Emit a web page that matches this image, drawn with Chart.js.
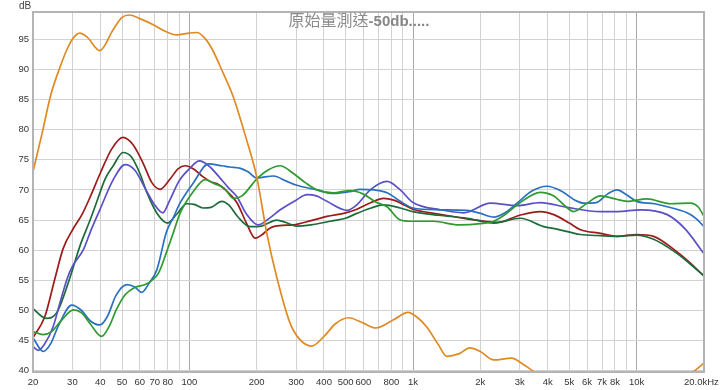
<!DOCTYPE html>
<html>
<head>
<meta charset="utf-8">
<script src="https://cdn.jsdelivr.net/npm/chart.js@4"></script>
<style>
  body { margin: 0; background: #fff; }
  canvas { display: block; }
</style>
</head>
<body>
<canvas id="fr" width="720" height="390"></canvas>
<script>
// Title + axis ticks
const titleCjk = '原始量測送';
const titleLatin = '-50db.....';
const yTicks = [40, 45, 50, 55, 60, 65, 70, 75, 80, 85, 90, 95];
const xGrid = [20, 30, 40, 50, 60, 70, 80, 90, 100, 200, 300, 400, 500, 600, 700, 800, 900,
  1000, 2000, 3000, 4000, 5000, 6000, 7000, 8000, 9000, 10000, 20000];
const xLabels = {20: '20', 30: '30', 40: '40', 50: '50', 60: '60', 70: '70', 80: '80', 100: '100',
  200: '200', 300: '300', 400: '400', 500: '500', 600: '600', 800: '800', 1000: '1k',
  2000: '2k', 3000: '3k', 4000: '4k', 5000: '5k', 6000: '6k', 7000: '7k', 8000: '8k',
  10000: '10k', 20000: '20.0kHz  '};

// Orange
const orangeFreq = [20, 22, 24, 26.5, 28.3, 30, 32.4, 35, 39.8, 45.7, 50, 54, 60, 69, 78, 87.6, 100, 108, 117, 127,
  140, 157, 178, 200, 222, 246, 282, 310, 352, 400, 450, 515, 600, 682, 822, 950, 1050, 1150, 1300, 1416,
  1600, 1798, 2000, 2295, 2757, 3100, 3462, 4000, 5000, 8000, 12000, 16000, 18000, 20000];
const orangeDb = [73.0, 79.5, 85.7, 90.5, 93.2, 95.0, 96.0, 95.3, 93.1, 96.6, 98.6, 99.0, 98.4, 97.4, 96.3, 95.7, 96.0, 96.1, 95.2, 93.2,
  89.8, 85.5, 79.0, 72.2, 62.8, 55.5, 47.9, 45.3, 44.1, 45.7, 47.8, 48.8, 47.9, 47.1, 48.5, 49.7, 48.8, 47.3, 44.3, 42.4,
  42.8, 43.8, 43.2, 41.8, 42.1, 41.1, 39.9, 38.5, 37.5, 37.0, 37.5, 38.6, 39.9, 41.3];

// Dark red
const redFreq = [20, 22.6, 25.1, 27.3, 30.3, 33, 36, 40, 45, 50.4, 56, 62, 68, 74, 82, 89, 96, 104, 114, 124,
  135, 145, 163, 180, 197, 212, 230, 260, 292, 350, 412, 500, 561, 650, 738, 820, 880, 1000, 1300, 1743,
  2100, 2380, 3000, 3710, 4260, 5000, 5600, 6900, 8200, 10000, 11900, 14700, 17000, 20000];
const redDb = [45.5, 49.0, 55.4, 60.3, 63.6, 65.8, 68.8, 72.8, 76.8, 78.7, 77.5, 74.5, 71.2, 70.1, 71.8, 73.5, 74.0, 73.5, 72.3, 71.4,
  70.9, 70.0, 67.9, 64.5, 62.0, 62.6, 63.7, 64.1, 64.2, 64.9, 65.6, 66.2, 66.8, 67.9, 68.6, 68.3, 67.8, 66.8, 66.0, 65.2,
  64.8, 64.6, 65.8, 66.4, 65.9, 64.5, 63.4, 62.8, 62.3, 62.6, 62.3, 60.1, 58.2, 55.7];

// Dark green
const dkGreenFreq = [20, 22.9, 25.5, 29, 32.5, 36, 38.7, 42, 45.7, 50.5, 55, 60, 64.7, 72, 80, 88, 97.4, 105, 115, 125,
  139.7, 150, 165, 187, 210, 246, 270, 300, 350, 426, 500, 561, 650, 738, 877, 1000, 1300, 1743, 2300, 3020,
  3840, 4400, 5600, 6900, 8200, 10000, 11900, 14700, 17000, 20000];
const dkGreenDb = [50.3, 48.7, 49.6, 55.0, 60.8, 65.0, 68.2, 71.8, 74.0, 76.2, 75.5, 72.8, 69.5, 66.0, 64.5, 66.0, 67.7, 67.6, 67.0, 67.1,
  68.1, 67.5, 65.5, 63.9, 64.0, 65.0, 64.6, 64.0, 64.2, 64.8, 65.3, 66.1, 67.0, 67.5, 67.0, 66.4, 65.8, 65.3, 64.5, 65.3,
  63.9, 63.5, 62.6, 62.4, 62.3, 62.5, 61.8, 59.8, 58.0, 55.7];

// Purple
const purpleFreq = [20, 21.1, 22.5, 24.6, 26.5, 28.5, 30, 33.6, 36.5, 39.8, 45.7, 51.6, 57, 64, 70, 76, 82, 90, 100, 111,
  122, 137, 150, 163, 180, 203, 230, 255, 300, 336, 370, 412, 507, 560, 644, 765, 877, 1000, 1325, 1684,
  2218, 2918, 3710, 4887, 6888, 8200, 10400, 13700, 16500, 20000];
const purpleDb = [44.0, 43.4, 44.4, 47.3, 51.5, 55.4, 57.3, 60.1, 63.5, 66.7, 71.7, 74.2, 73.3, 70.0, 67.5, 66.2, 68.4, 71.5, 73.5, 74.8,
  74.0, 72.0, 70.3, 68.9, 66.0, 64.2, 65.4, 66.7, 68.3, 69.2, 69.0, 68.1, 66.6, 67.5, 70.0, 71.4, 70.0, 67.9, 66.7, 66.2,
  67.8, 67.4, 67.9, 67.1, 66.4, 66.4, 66.7, 65.9, 63.5, 59.4];

// Blue
const blueFreq = [20, 22.2, 24, 26, 29.8, 33, 36, 39.8, 43, 47, 52.6, 57, 61.2, 66, 71.5, 79, 85, 90.8, 104, 121.7,
  140, 152, 168, 183, 200, 238, 270, 300, 372, 441, 520, 580, 669, 770, 877, 1000, 1300, 1743, 2000, 2295,
  2600, 2918, 3400, 3976, 4600, 5300, 5800, 6600, 7400, 8180, 9000, 10000, 12000, 13700, 16800, 18500, 20000];
const blueDb = [45.5, 43.2, 44.5, 47.5, 50.9, 50.0, 48.3, 47.6, 49.0, 52.5, 54.3, 53.9, 53.0, 54.5, 56.7, 63.0, 65.5, 67.8, 71.1, 74.3,
  74.0, 73.8, 73.6, 73.0, 72.0, 72.3, 71.5, 70.8, 70.0, 69.4, 69.7, 70.1, 70.0, 69.5, 68.1, 67.0, 66.7, 66.6, 66.1, 65.5,
  66.3, 67.8, 69.8, 70.6, 69.8, 68.3, 67.8, 67.9, 69.3, 70.0, 69.2, 68.1, 67.7, 67.2, 66.2, 65.2, 63.9];

// Bright green
const greenFreq = [20, 22.2, 24.2, 27, 30.3, 33, 36, 40.5, 44, 47, 51.6, 57, 63.5, 68, 72.8, 79.3, 85, 90.8, 104, 117.7,
  130, 143, 157.5, 172, 200, 225, 255, 290, 330, 372, 440, 524, 600, 680, 765, 877, 972, 1236, 1600, 2000,
  2295, 2600, 2918, 3710, 4260, 4800, 5230, 5900, 6900, 8000, 9070, 11100, 14200, 17400, 18800, 20000];
const greenDb = [46.5, 46.0, 46.5, 48.5, 50.1, 49.6, 47.8, 45.7, 47.5, 50.0, 52.6, 53.8, 54.3, 55.0, 56.2, 59.8, 63.0, 66.1, 69.7, 71.7,
  71.0, 70.3, 68.6, 69.0, 71.8, 73.3, 74.0, 72.8, 71.2, 70.0, 69.5, 69.9, 69.3, 68.0, 67.2, 65.0, 64.8, 64.8, 64.2, 64.4,
  64.8, 66.0, 67.5, 69.6, 69.0, 67.3, 66.4, 67.6, 69.0, 68.5, 68.1, 68.5, 67.7, 67.8, 67.2, 65.6];

const pts = (freq, db) => freq.map((f, i) => ({ x: f, y: db[i] }));

function series(freq, db, color) {
    return {
        data: pts(freq, db),
        borderColor: color,
        borderWidth: 1.7,
        pointRadius: 0,
        fill: false,
        cubicInterpolationMode: 'monotone'
    };
}

// Frame, title and "dB" label drawn on top of the plot
const overlay = {
    id: 'overlay',
    afterDraw(chart) {
        const ctx = chart.ctx;
        const a = chart.chartArea;
        ctx.save();
        ctx.strokeStyle = '#b4b4b4';
        ctx.lineWidth = 2;
        ctx.strokeRect(a.left, a.top, a.right - a.left, a.bottom - a.top);

        ctx.textBaseline = 'alphabetic';
        ctx.textAlign = 'left';
        ctx.font = '16px "Noto Sans CJK TC"';
        const w1 = ctx.measureText(titleCjk).width;
        ctx.font = 'bold 15px "Liberation Sans", Arial, sans-serif';
        const w2 = ctx.measureText(titleLatin).width;
        const x0 = 359 - (w1 + w2) / 2;
        ctx.font = '16px "Noto Sans CJK TC"';
        ctx.fillStyle = '#8c8c8c';
        ctx.fillText(titleCjk, x0, 26);
        ctx.font = 'bold 15px "Liberation Sans", Arial, sans-serif';
        ctx.fillStyle = '#868686';
        ctx.fillText(titleLatin, x0 + w1, 26);

        ctx.font = '10px "Liberation Sans", Arial, sans-serif';
        ctx.fillStyle = '#444';
        ctx.fillText('dB', 19, 9);
        ctx.restore();
    }
};

const majors = [100, 1000, 10000];
const tickFont = { family: '"Liberation Sans", Arial, sans-serif', size: 9.5 };

new Chart(document.getElementById('fr'), {
    type: 'line',
    data: {
        datasets: [
            series(orangeFreq, orangeDb, '#e08a24'),
            series(greenFreq, greenDb, '#2f9a2f'),
            series(blueFreq, blueDb, '#2a70c0'),
            series(purpleFreq, purpleDb, '#5a50c6'),
            series(dkGreenFreq, dkGreenDb, '#1d6a3a'),
            series(redFreq, redDb, '#9c1a1a')
        ]
    },
    options: {
        responsive: false,
        devicePixelRatio: 1,
        animation: false,
        layout: { padding: { top: 12, right: 16, left: 0, bottom: 0 } },
        plugins: {
            legend: { display: false },
            tooltip: { enabled: false },
            title: { display: false }
        },
        scales: {
            x: {
                type: 'logarithmic',
                min: 20,
                max: 20000,
                afterBuildTicks: s => { s.ticks = xGrid.map(v => ({ value: v })); },
                afterFit: s => { s.height = 18; s.paddingLeft = 0; s.paddingRight = 0; },
                grid: {
                    color: c => majors.includes(c.tick && c.tick.value) ? '#a8a8a8' : '#d2d2d2',
                    lineWidth: 1,
                    drawTicks: false
                },
                border: { display: false },
                ticks: {
                    autoSkip: false,
                    maxRotation: 0,
                    padding: 5,
                    color: '#333',
                    font: tickFont,
                    callback: v => xLabels[v] || ''
                }
            },
            y: {
                min: 39.8,
                max: 99.5,
                afterBuildTicks: s => { s.ticks = yTicks.map(v => ({ value: v })); },
                afterFit: s => { s.width = 33; s.paddingTop = 0; s.paddingBottom = 0; },
                grid: { color: '#d2d2d2', lineWidth: 1, drawTicks: false },
                border: { display: false },
                ticks: {
                    padding: 4,
                    color: '#333',
                    font: tickFont
                }
            }
        }
    },
    plugins: [overlay]
});
</script>
</body>
</html>
